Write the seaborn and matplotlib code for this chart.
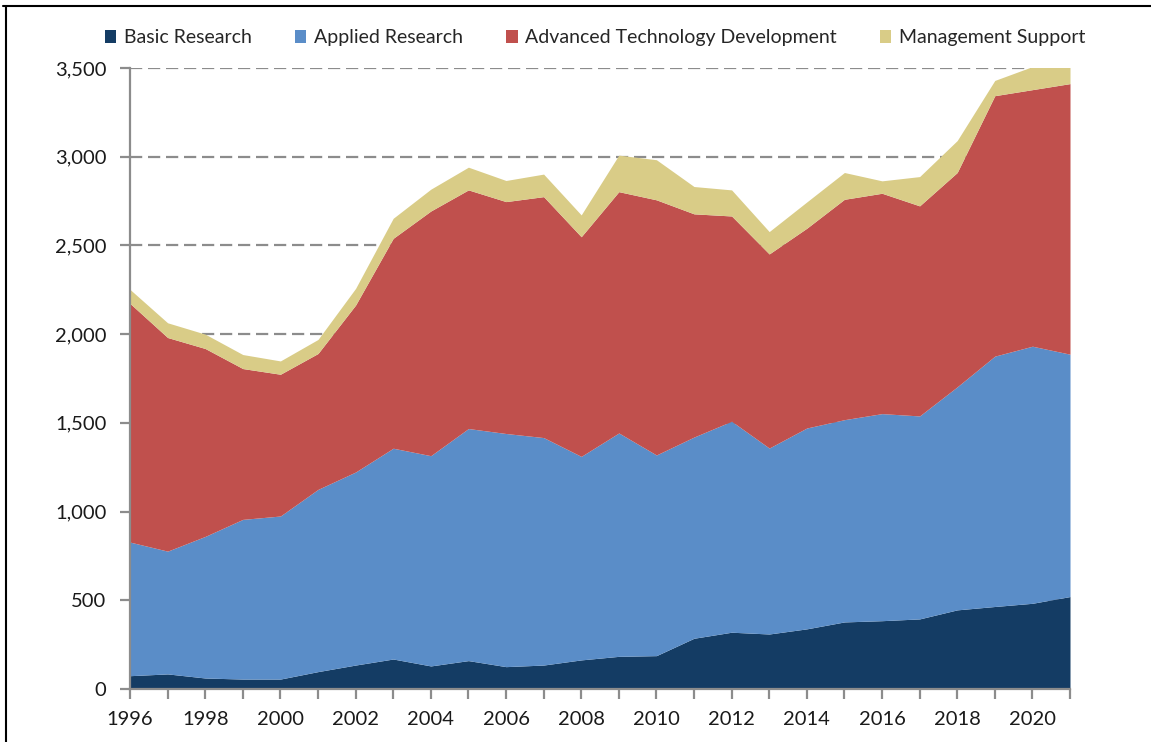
import matplotlib
matplotlib.use("Agg")
import matplotlib.pyplot as plt
from matplotlib.lines import Line2D
from matplotlib.patches import Patch
from matplotlib.ticker import FuncFormatter, MultipleLocator
import pandas as pd
import seaborn as sns

# values
years = list(range(1996, 2022))
basic = [75, 85, 62, 56, 56, 98, 135, 169, 130, 160, 126, 135, 164,
         184, 188, 286, 320, 310, 339, 378, 385, 395, 446, 465, 483, 521]
applied = [753, 692, 798, 900, 919, 1027, 1088, 1188, 1185, 1308, 1314, 1282, 1147,
           1259, 1131, 1134, 1189, 1048, 1132, 1140, 1167, 1144, 1257, 1411, 1449, 1366]
atd = [1345, 1204, 1059, 850, 799, 766, 941, 1183, 1379, 1345, 1307, 1358, 1238,
       1360, 1438, 1258, 1157, 1094, 1126, 1242, 1242, 1184, 1208, 1468, 1446, 1525]
mgmt = [79, 83, 81, 79, 75, 79, 94, 113, 123, 128, 119, 127, 123,
        206, 226, 154, 147, 126, 148, 151, 70, 165, 180, 86, 130, 110]

series = ["Basic Research", "Applied Research",
          "Advanced Technology Development", "Management Support"]
colors = ["#143C64", "#5A8DC8", "#C0504D", "#D9CC87"]

df = pd.DataFrame({"year": years, series[0]: basic, series[1]: applied,
                   series[2]: atd, series[3]: mgmt})

sns.set_theme(style="white")
plt.rcParams["font.family"] = ["Lato", "DejaVu Sans"]

fig = plt.figure(figsize=(11.51, 7.42), dpi=100)
ax = fig.add_axes([130 / 1151, 53 / 742, 940 / 1151, 621 / 742])

ax.stackplot(df["year"], [df[s] for s in series], colors=colors,
             labels=series, linewidth=0, zorder=2)

ax.set_xlim(1996, 2021)
ax.set_ylim(0, 3500)
ax.yaxis.set_major_locator(MultipleLocator(500))
ax.yaxis.set_major_formatter(FuncFormatter(lambda v, p: f"{int(v):,}"))
ax.set_xticks(years)
ax.set_xticklabels([str(y) if y % 2 == 0 else "" for y in years])

ax.grid(axis="y", color="#8C8C8C", linestyle=(0, (5.5, 2.6)), linewidth=1.6, zorder=1)
ax.set_axisbelow(True)

sns.despine(ax=ax, top=True, right=True)
for side in ["left", "bottom"]:
    ax.spines[side].set_color("#8C8C8C")
    ax.spines[side].set_linewidth(1.6)
    ax.spines[side].set_zorder(3)

ax.tick_params(axis="both", which="major", direction="out", length=7, width=1.6,
               color="#8C8C8C", labelsize=14.5, labelcolor="#1A1A1A")
ax.tick_params(axis="x", pad=9, bottom=True)
ax.tick_params(axis="y", pad=10, left=True)

handles = [Patch(facecolor=c, edgecolor="none") for c in colors]
fig.legend(handles, series, loc="center", bbox_to_anchor=(0.517, 0.949), ncol=4,
           frameon=False, fontsize=14, handlelength=0.6, handleheight=0.6,
           handletextpad=0.4, columnspacing=2.2)

# thin frame lines at top and left of the image
fig.add_artist(Line2D([3 / 1151, 1], [1 - 6 / 742, 1 - 6 / 742],
                      transform=fig.transFigure, color="black", linewidth=1.5))
fig.add_artist(Line2D([6 / 1151, 6 / 1151], [0, 1 - 6 / 742],
                      transform=fig.transFigure, color="black", linewidth=1.5))

fig.savefig("out.png", dpi=100)
